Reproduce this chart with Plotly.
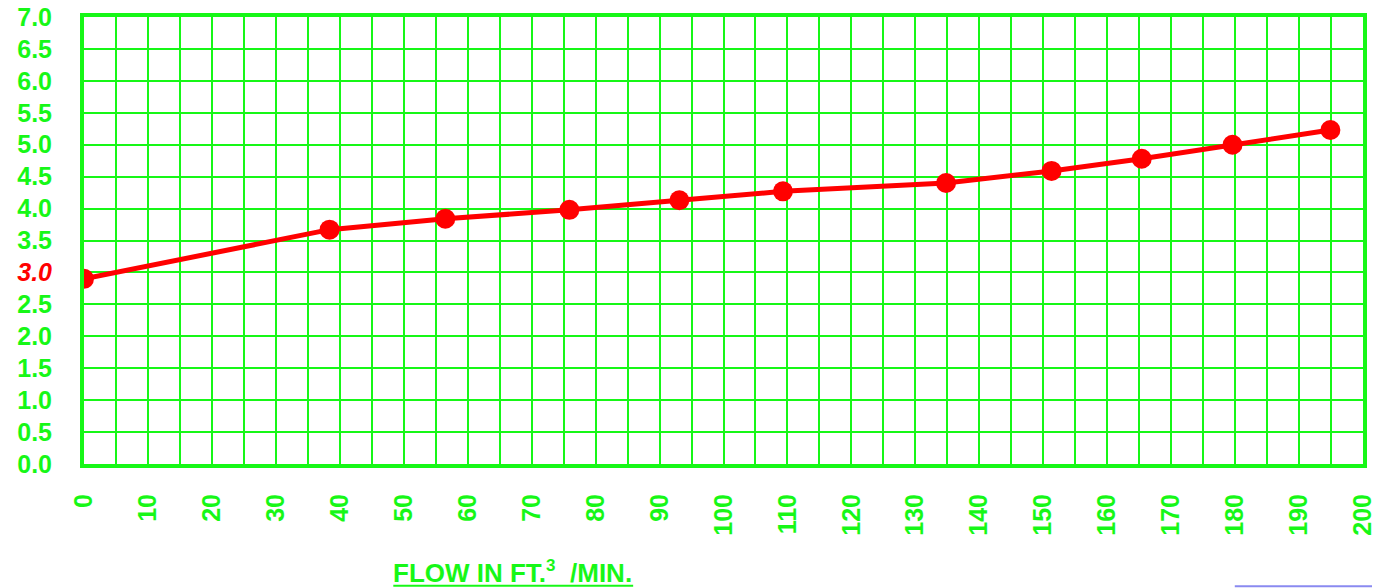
import plotly.graph_objects as go

# Data
flow = [0, 38.4, 56.5, 75.9, 93.1, 109.3, 134.8, 151.3, 165.4, 179.6, 194.9]
value = [2.90, 3.67, 3.84, 3.98, 4.13, 4.27, 4.40, 4.59, 4.78, 5.00, 5.23]

x_ticks = list(range(0, 201, 10))
y_ticks = [i * 0.5 for i in range(15)]
y_ticktext = [("<span style='color:#FF0000'><i>%.1f</i></span>" % v) if v == 3.0 else "%.1f" % v
              for v in y_ticks]

GREEN = "#17F717"
RED = "#FF0000"
FONT = "Liberation Sans, Arial, sans-serif"

L, T, PW, PH = 75.5, 9, 1279.8, 447.5
W, H = 1380, 588
R = W - L - PW
B = H - T - PH
BOT = T + PH


def px(xf):
    return (xf - L) / PW


def py(yf):
    return (BOT - yf) / PH


fig = go.Figure()
fig.add_trace(go.Scatter(
    x=flow, y=value, mode="lines+markers",
    line=dict(color=RED, width=5),
    marker=dict(color=RED, size=20, line=dict(width=0)),
    showlegend=False, hoverinfo="x+y",
))

fig.update_layout(
    template="none",
    width=W, height=H,
    margin=dict(l=L, r=R, t=T, b=B, autoexpand=False),
    paper_bgcolor="white", plot_bgcolor="white",
    font=dict(family=FONT, color=GREEN, size=25),
    showlegend=False,
    annotations=[dict(
        text="<b>FLOW IN FT.<sup><span style='font-size:17px'>3</span></sup>  /MIN.</b>",
        xref="paper", yref="paper", x=px(504.5), y=py(583),
        xanchor="center", yanchor="bottom", showarrow=False,
        font=dict(family=FONT, size=26, color=GREEN),
    )],
    shapes=[
        dict(type="line", xref="paper", yref="paper",
             x0=px(385), x1=px(625), y0=py(578.5), y1=py(578.5),
             line=dict(color=GREEN, width=2)),
        dict(type="line", xref="paper", yref="paper",
             x0=px(1227), x1=px(1385), y0=py(579), y1=py(579),
             line=dict(color="#8A8AF0", width=2)),
    ],
)

fig.update_xaxes(
    automargin=False, ticklabeloverflow="allow",
    range=[0, 200], tickvals=x_ticks, ticktext=[str(v) for v in x_ticks],
    tickangle=-90, tickfont=dict(family=FONT, size=25, color=GREEN, weight="bold"),
    ticklabelstandoff=16,
    showgrid=True, gridcolor=GREEN, gridwidth=2,
    minor=dict(dtick=5, showgrid=True, gridcolor=GREEN, gridwidth=2),
    showline=True, linecolor=GREEN, linewidth=4, mirror=True,
    zeroline=False, ticks="",
)
fig.update_yaxes(
    automargin=False, ticklabeloverflow="allow",
    range=[0, 7], tickvals=y_ticks, ticktext=y_ticktext,
    tickfont=dict(family=FONT, size=25, color=GREEN, weight="bold"),
    ticklabelstandoff=23,
    showgrid=True, gridcolor=GREEN, gridwidth=2,
    showline=True, linecolor=GREEN, linewidth=4, mirror=True,
    zeroline=False, ticks="",
)

fig.write_html("out.html")
